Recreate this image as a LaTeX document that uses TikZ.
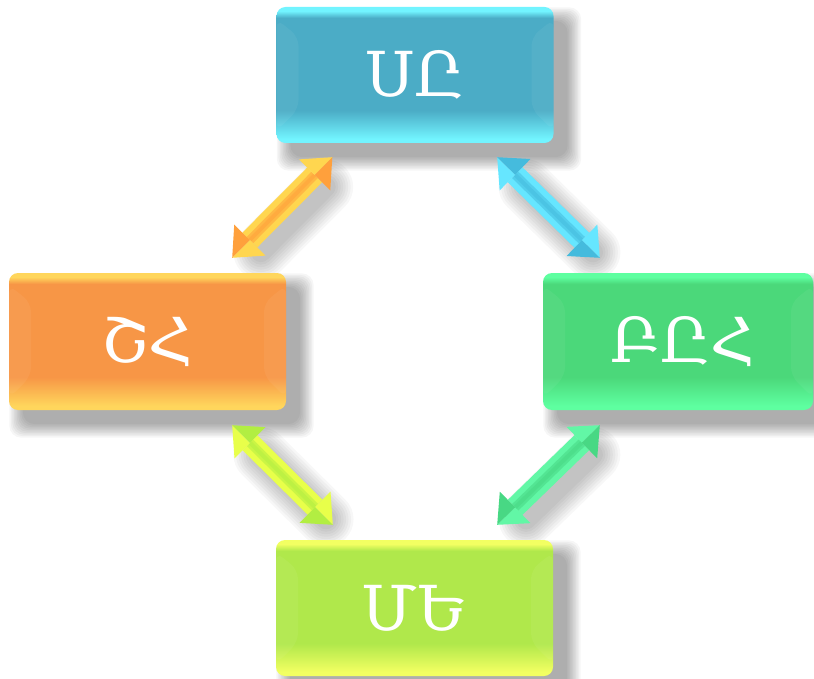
\documentclass[tikz,border=0pt]{standalone}
\usepackage{fontspec}
\newfontfamily\armfont{DejaVu Serif}
\usetikzlibrary{calc}
\pgfdeclarelayer{bottom}\pgfdeclarelayer{shadow}
\pgfsetlayers{bottom,shadow,main}
\definecolor{Smain}{HTML}{4BACC6}\definecolor{Sedge}{HTML}{72F4FF}
\definecolor{Lmain}{HTML}{F79646}\definecolor{Ledge}{HTML}{FFD65C}
\definecolor{Rmain}{HTML}{4BD87A}\definecolor{Redge}{HTML}{5EFFA0}
\definecolor{Mmain}{HTML}{B0E84B}\definecolor{Medge}{HTML}{F2FF62}
\definecolor{TLl}{HTML}{FFD64F}\definecolor{TLd}{HTML}{FFA03C}
\definecolor{TRl}{HTML}{66E6FF}\definecolor{TRd}{HTML}{45BBDD}
\definecolor{BLl}{HTML}{E8FF4A}\definecolor{BLd}{HTML}{B2EE42}
\definecolor{BRl}{HTML}{62F7A6}\definecolor{BRd}{HTML}{48D884}
\pgfdeclareverticalshading{shS}{100bp}{color(0bp)=(Sedge); color(25bp)=(Sedge); color(26.5bp)=(Sedge); color(37bp)=(Smain); color(71bp)=(Smain); color(73.5bp)=(Sedge); color(100bp)=(Sedge)}
\pgfdeclareverticalshading{shL}{100bp}{color(0bp)=(Ledge); color(25bp)=(Ledge); color(26.5bp)=(Ledge); color(37bp)=(Lmain); color(71bp)=(Lmain); color(73.5bp)=(Ledge); color(100bp)=(Ledge)}
\pgfdeclareverticalshading{shR}{100bp}{color(0bp)=(Redge); color(25bp)=(Redge); color(26.5bp)=(Redge); color(37bp)=(Rmain); color(71bp)=(Rmain); color(73.5bp)=(Redge); color(100bp)=(Redge)}
\pgfdeclareverticalshading{shM}{100bp}{color(0bp)=(Medge); color(25bp)=(Medge); color(26.5bp)=(Medge); color(37bp)=(Mmain); color(71bp)=(Mmain); color(73.5bp)=(Medge); color(100bp)=(Medge)}
\newcommand\bevels{%
  \fill[white,opacity=.05] ($(path picture bounding box.north west)+(0,12)$) -- ($(path picture bounding box.north west)+(22,30)$) -- ($(path picture bounding box.south west)+(22,-34)$) -- ($(path picture bounding box.south west)+(0,-12)$) -- cycle;
  \fill[white,opacity=.05] ($(path picture bounding box.north east)+(0,12)$) -- ($(path picture bounding box.north east)+(-22,30)$) -- ($(path picture bounding box.south east)+(-22,-34)$) -- ($(path picture bounding box.south east)+(0,-12)$) -- cycle;
}
\newcommand\boxshadow[1]{%
  \begin{pgfonlayer}{shadow}
  \foreach \e in {0,1.5,...,13.5}{%
    \fill[black,opacity=.035,rounded corners=12pt] ($(#1.north west)+(14-\e,14-\e)$) rectangle ($(#1.south east)+(14+\e,14+\e)$);}
  \end{pgfonlayer}}
\newcommand\dblarrow[4]{%
  \coordinate (#1c) at ($(#1)!25pt!(#2)$);
  \coordinate (#2c) at ($(#2)!25pt!(#1)$);
  \begin{pgfonlayer}{shadow}
  \foreach \w in {20,25,...,55}{%
    \draw[line width=\w pt, black, opacity=.03, line cap=round, transform canvas={shift={(11pt,-12pt)}}] (#1c) -- (#2c);}
  \end{pgfonlayer}
  \draw[line width=21pt, #3] (#1c) -- (#2c);
  \draw[line width=9pt, #4, opacity=.55] (#1c) -- (#2c);
  \draw[line width=4pt, #4, opacity=.5] (#1c) -- (#2c);
  \fill[#3] (#1) -- ($(#1c)!22pt!90:(#1)$) -- (#1c) -- cycle;
  \fill[#4] (#1) -- ($(#1c)!22pt!-90:(#1)$) -- (#1c) -- cycle;
  \fill[#3] (#2) -- ($(#2c)!22pt!90:(#2)$) -- (#2c) -- cycle;
  \fill[#4] (#2) -- ($(#2c)!22pt!-90:(#2)$) -- (#2c) -- cycle;
}
\begin{document}
\begin{tikzpicture}[x=1pt,y=-1pt,
  box/.style={rounded corners=9pt, minimum width=277pt, minimum height=136pt, inner sep=0pt,
    text=white, font=\armfont\fontsize{62}{64}\selectfont,
    path picture={\bevels}}]
\useasboundingbox (0,0) rectangle (814,679);
\begin{pgfonlayer}{bottom}\fill[white] (0,0) rectangle (814,679);\end{pgfonlayer}
\node[box, shading=shS] (S) at (415,75) {ՍԸ};
\node[box, shading=shL, minimum height=137pt] (L) at (147.5,341.5) {ՇՀ};
\node[box, shading=shR, minimum width=270pt, minimum height=137pt] (R) at (678,341.5) {\hspace*{10pt}ԲԸՀ};
\node[box, shading=shM] (M) at (414.5,608) {ՄԵ};
\boxshadow{S}\boxshadow{L}\boxshadow{R}\boxshadow{M}
\coordinate (tl1) at ($(L.north east)+(-54,-15)$);
\coordinate (tl2) at ($(S.south west)+(56,14)$);
\coordinate (tr1) at ($(S.south east)+(-56.5,14)$);
\coordinate (tr2) at ($(R.north west)+(57,-15)$);
\coordinate (bl1) at ($(L.south east)+(-54,15)$);
\coordinate (bl2) at ($(M.north west)+(57,-15)$);
\coordinate (br1) at ($(R.south west)+(57,15)$);
\coordinate (br2) at ($(M.north east)+(-56,-15)$);
\dblarrow{tl1}{tl2}{TLl}{TLd}
\dblarrow{tr1}{tr2}{TRl}{TRd}
\dblarrow{bl1}{bl2}{BLl}{BLd}
\dblarrow{br1}{br2}{BRl}{BRd}
\end{tikzpicture}
\end{document}
